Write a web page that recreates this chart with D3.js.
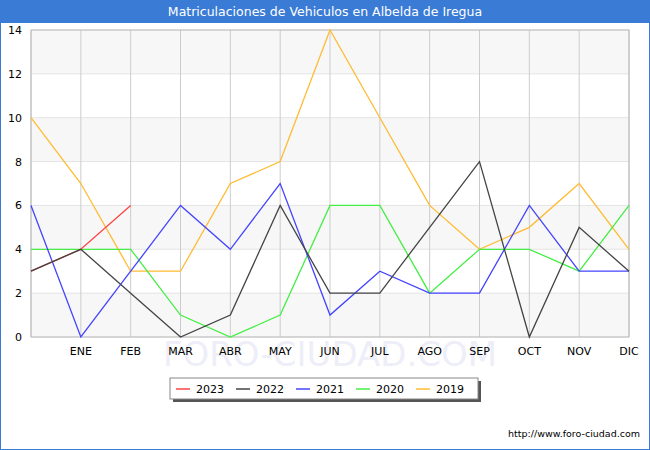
<!DOCTYPE html><html><head><script src="https://cdn.jsdelivr.net/npm/d3@7"></script>
<style>body{margin:0}</style></head><body><svg id="c" width="650" height="450"></svg>
<script>
const months=["","ENE","FEB","MAR","ABR","MAY","JUN","JUL","AGO","SEP","OCT","NOV","DIC"];
const s2023=[3,4,6];
const s2022=[3,4,2,0,1,6,2,2,5,8,0,5,3];
const s2021=[6,0,3,6,4,7,1,3,2,2,6,3,3];
const s2020=[4,4,4,1,0,1,6,6,2,4,4,3,6];
const s2019=[10,7,3,3,7,8,14,10,6,4,5,7,4];
const yTicks=[0,2,4,6,8,10,12,14];
const series=[["2023",s2023,"#ff4444"],["2022",s2022,"#444444"],["2021",s2021,"#4444ff"],["2020",s2020,"#44ee44"],["2019",s2019,"#ffbb33"]];
const svg=d3.select("#c");
svg.append("rect").attr("x",0.5).attr("y",0.5).attr("width",649).attr("height",449).attr("fill","#fff").attr("stroke","#3a7bd5");
svg.append("rect").attr("x",0).attr("y",0).attr("width",650).attr("height",23).attr("fill","#3a7bd5");
svg.append("text").attr("x",325).attr("y",16).attr("text-anchor","middle").attr("fill","#fff").attr("font-family","DejaVu Sans").attr("font-size",12.5).text("Matriculaciones de Vehiculos en Albelda de Iregua");
const x=d3.scaleLinear().domain([0,12]).range([31,629]);
const y=d3.scaleLinear().domain([0,14]).range([337,30]);
const g=svg.append("g");
for(let v=0;v<14;v+=4) g.append("rect").attr("x",31).attr("width",598).attr("y",y(v+2)).attr("height",y(v)-y(v+2)).attr("fill","#f7f7f7");
yTicks.forEach(v=>g.append("line").attr("x1",31).attr("x2",629).attr("y1",y(v)).attr("y2",y(v)).attr("stroke","#e4e4e4"));
months.forEach((m,i)=>g.append("line").attr("x1",x(i)).attr("x2",x(i)).attr("y1",30).attr("y2",337).attr("stroke","#cccccc"));
g.append("rect").attr("x",31).attr("y",30).attr("width",598).attr("height",307).attr("fill","none").attr("stroke","#bbb");
g.append("text").attr("x",330).attr("y",366).attr("text-anchor","middle").attr("font-family","DejaVu Sans").attr("font-size",34).attr("fill","#eeeef8").text("FORO-CIUDAD.COM");
const ff="DejaVu Sans";
yTicks.forEach(v=>svg.append("text").attr("x",22).attr("y",y(v)+4).attr("text-anchor","end").attr("font-family",ff).attr("font-size",11).text(v));
months.forEach((m,i)=>svg.append("text").attr("x",x(i)).attr("y",355).attr("text-anchor","middle").attr("font-family",ff).attr("font-size",11).text(m));
const line=d3.line().x((d,i)=>x(i)).y(d=>y(d));
[4,3,2,0,1].forEach(k=>{const [n,d,c]=series[k];svg.append("path").attr("d",line(d)).attr("fill","none").attr("stroke",c).attr("stroke-width",1.3);});
svg.append("rect").attr("x",173).attr("y",381).attr("width",308).attr("height",21).attr("fill","#555");
svg.append("rect").attr("x",170).attr("y",378).attr("width",308).attr("height",21).attr("fill","#fff").attr("stroke","#888");
series.forEach(([n,d,c],i)=>{const lx=176+i*60;
svg.append("line").attr("x1",lx).attr("x2",lx+14).attr("y1",389).attr("y2",389).attr("stroke",c).attr("stroke-width",1.5);
svg.append("text").attr("x",lx+20).attr("y",393).attr("font-family",ff).attr("font-size",11).text(n);});
svg.append("text").attr("x",640).attr("y",437).attr("text-anchor","end").attr("font-family",ff).attr("font-size",9.5).text("http://www.foro-ciudad.com");
</script></body></html>
